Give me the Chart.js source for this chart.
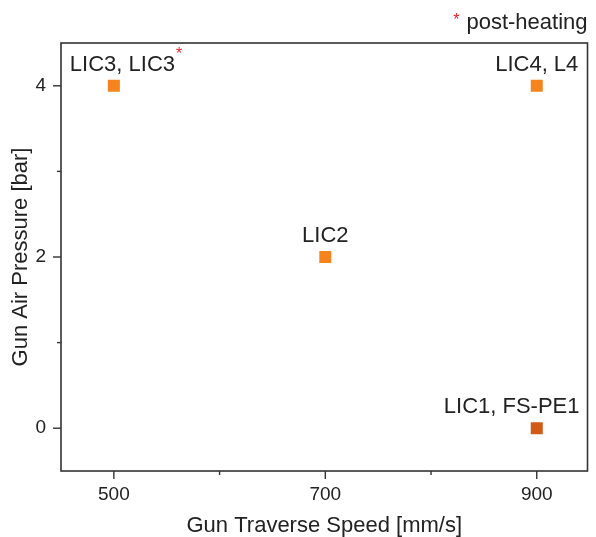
<!DOCTYPE html>
<html>
<head>
<meta charset="utf-8">
<script src="https://cdn.jsdelivr.net/npm/chart.js@4.4.1/dist/chart.umd.min.js"></script>
<style>
  html, body { margin: 0; padding: 0; background: #fff; }
  #wrap { width: 596px; height: 537px; }
</style>
</head>
<body>
<div id="wrap"><canvas id="c"></canvas></div>
<script>
// data
var speeds    = [500, 900, 700, 900];          // mm/s
var pressures = [4, 4, 2, 0];                  // bar
var pointNames = ['LIC3, LIC3', 'LIC4, L4', 'LIC2', 'LIC1, FS-PE1'];
var postHeated = [true, false, false, false];
var pointColors = ['#f5841f', '#f5841f', '#f5841f', '#d15a17'];
var xTicks = [500, 600, 700, 800, 900];
var xLabels = [500, 700, 900];
var yTicks = [0, 1, 2, 3, 4];
var yLabels = [0, 2, 4];

var FONT = '"Liberation Sans", Arial, Helvetica, sans-serif';
var INK = '#222';

// frame, tick marks, point labels, footnote
var decor = {
    id: 'decor',
    afterDraw: function (chart) {
        var ctx = chart.ctx, a = chart.chartArea, xs = chart.scales.x, ys = chart.scales.y;
        ctx.save();
        ctx.strokeStyle = '#333'; ctx.lineWidth = 1.6;
        ctx.strokeRect(a.left, a.top, a.right - a.left, a.bottom - a.top);
        ctx.lineWidth = 1.4;
        xTicks.forEach(function (v) {
            var px = xs.getPixelForValue(v), len = xLabels.indexOf(v) >= 0 ? 8 : 4;
            ctx.beginPath(); ctx.moveTo(px, a.bottom); ctx.lineTo(px, a.bottom + len); ctx.stroke();
        });
        yTicks.forEach(function (v) {
            var py = ys.getPixelForValue(v), len = yLabels.indexOf(v) >= 0 ? 8 : 4;
            ctx.beginPath(); ctx.moveTo(a.left, py); ctx.lineTo(a.left - len, py); ctx.stroke();
        });

        // labels above the points
        var meta = chart.getDatasetMeta(0);
        ctx.textBaseline = 'alphabetic'; ctx.textAlign = 'left';
        meta.data.forEach(function (pt, i) {
            ctx.font = '22px ' + FONT; ctx.fillStyle = INK;
            var name = pointNames[i], w = ctx.measureText(name).width, x = pt.x - w / 2, y = pt.y - 15;
            if (postHeated[i]) x = pt.x - 44;
            if (x + w > a.right - 8) x = a.right - 8 - w;
            ctx.fillText(name, x, y);
            if (postHeated[i]) {
                ctx.font = '16px ' + FONT; ctx.fillStyle = '#e8202a';
                ctx.fillText('*', x + w + 1, y - 12);
            }
        });

        // footnote
        ctx.font = '22px ' + FONT; ctx.fillStyle = INK; ctx.textAlign = 'right';
        ctx.fillText('post-heating', a.right, 29);
        var fw = ctx.measureText('post-heating').width;
        ctx.font = '16px ' + FONT; ctx.fillStyle = '#e8202a';
        ctx.fillText('*', a.right - fw - 7, 25);
        ctx.restore();
    }
};

new Chart(document.getElementById('c'), {
    type: 'scatter',
    data: {
        datasets: [{
            data: speeds.map(function (s, i) { return { x: s, y: pressures[i] }; }),
            pointStyle: 'rect', pointRadius: 8.5, pointHoverRadius: 8.5,
            backgroundColor: pointColors, borderWidth: 0
        }]
    },
    options: {
        responsive: true, maintainAspectRatio: false, animation: false,
        layout: { padding: { top: 43, right: 3, left: 0, bottom: 0 } },
        plugins: { legend: { display: false }, tooltip: { enabled: false } },
        scales: {
            x: {
                type: 'linear', min: 450, max: 948,
                afterFit: function (s) { s.height = 66; s.paddingLeft = 0; s.paddingRight = 0; },
                afterBuildTicks: function (s) { s.ticks = xLabels.map(function (v) { return { value: v }; }); },
                grid: { display: false, drawTicks: false }, border: { display: false },
                ticks: { padding: 12, color: INK, font: { family: FONT, size: 19 } },
                title: { display: true, text: 'Gun Traverse Speed [mm/s]', color: INK, padding: 0,
                         font: { family: FONT, size: 22, lineHeight: 1 } }
            },
            y: {
                type: 'linear', min: -0.5, max: 4.5,
                afterFit: function (s) { s.width = 61; },
                afterBuildTicks: function (s) { s.ticks = yLabels.map(function (v) { return { value: v }; }); },
                grid: { display: false, drawTicks: false }, border: { display: false },
                ticks: { padding: 15, color: INK, font: { family: FONT, size: 19 } },
                title: { display: true, text: 'Gun Air Pressure [bar]', color: INK, padding: { top: 10, bottom: 0 },
                         font: { family: FONT, size: 22, lineHeight: 1 } }
            }
        }
    },
    plugins: [decor]
});
</script>
</body>
</html>
